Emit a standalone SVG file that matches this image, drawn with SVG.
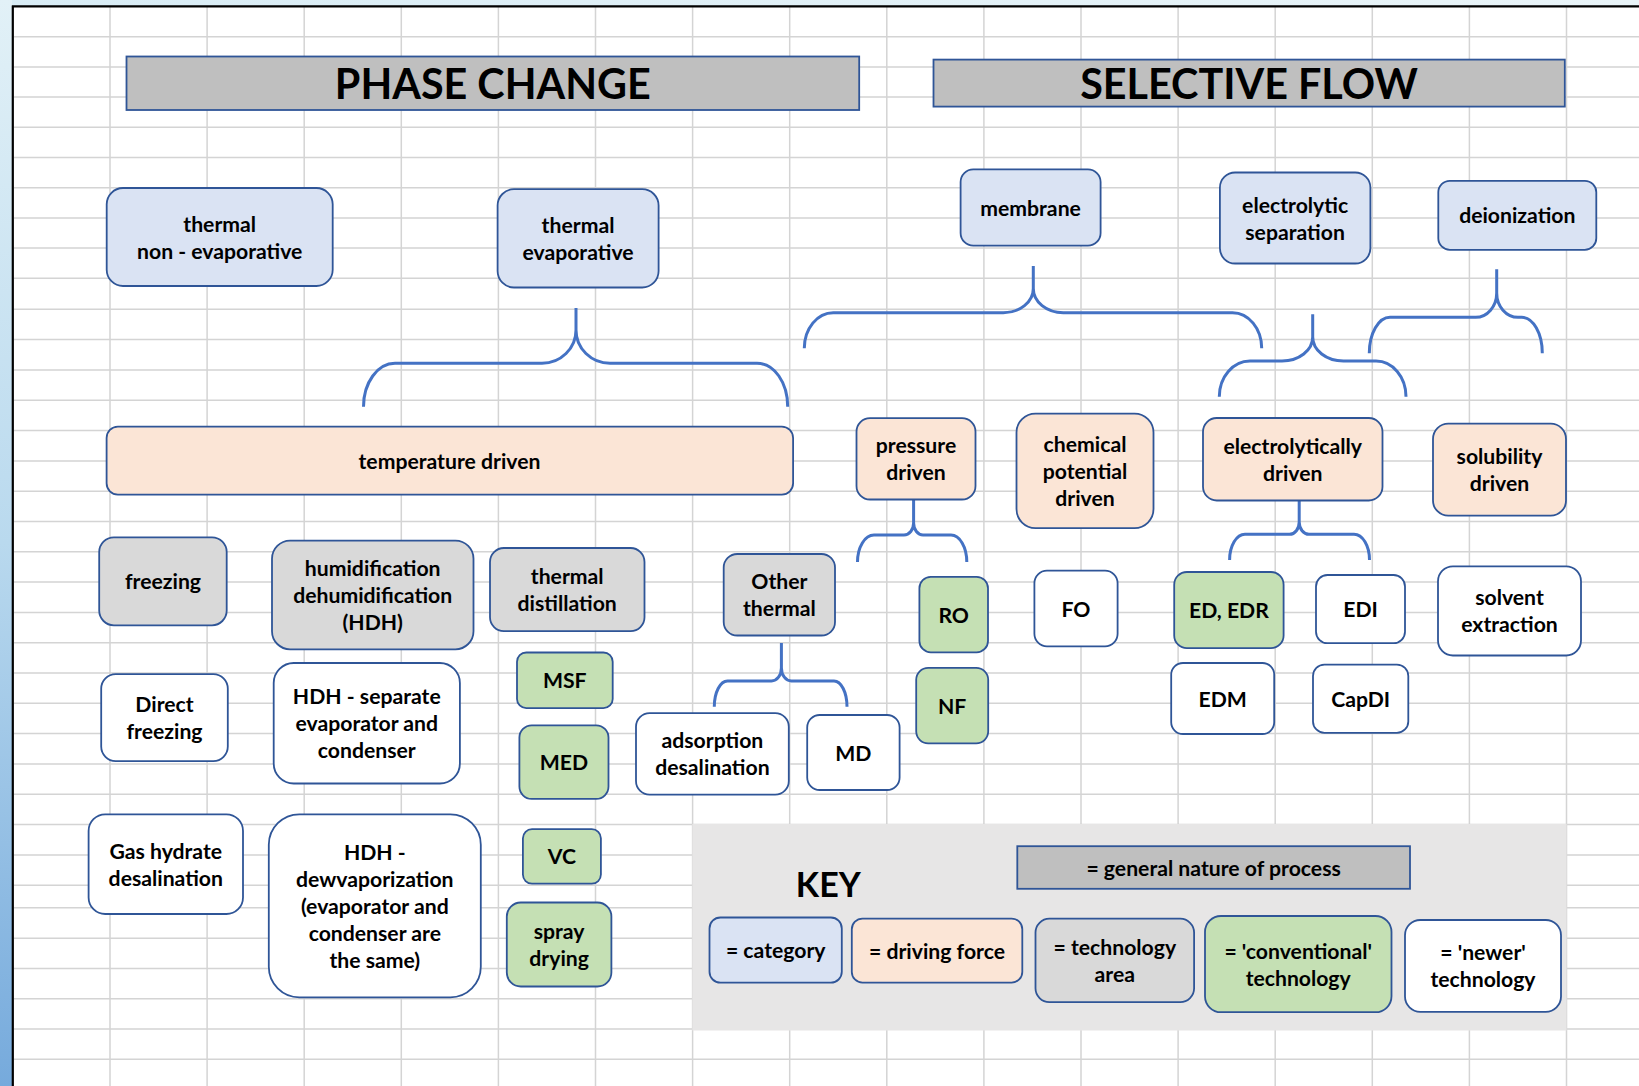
<svg xmlns="http://www.w3.org/2000/svg" width="1639" height="1086" viewBox="0 0 1639 1086">
<defs>
<linearGradient id="lg" x1="0" y1="0" x2="0" y2="1">
<stop offset="0" stop-color="#e2f1f7"/>
<stop offset="0.5" stop-color="#b9d9ee"/>
<stop offset="1" stop-color="#76aadc"/>
</linearGradient>
<linearGradient id="tg" x1="0" y1="0" x2="1" y2="0">
<stop offset="0" stop-color="#d8ecf5"/>
<stop offset="1" stop-color="#e9f4f8"/>
</linearGradient>
</defs>
<style>
.grid{stroke:#d4d4d4;stroke-width:1.5;fill:none}
.box{stroke:#2f5597;stroke-width:1.8}
.cat{fill:#dae3f3}
.drv{fill:#fbe5d6}
.tech{fill:#d9d9d9}
.conv{fill:#c5e0b4}
.new{fill:#ffffff}
.hdr{fill:#bfbfbf}
text{font-family:Lato,"Open Sans","Liberation Sans",sans-serif;font-weight:700;font-size:21.2px;text-anchor:middle;fill:#000}
.big{font-size:41.3px}
.key{font-size:34px}
.br{fill:none;stroke:#4472c4;stroke-width:3}
</style>
<rect x="0" y="0" width="1639" height="1086" fill="#ffffff"/>
<rect x="0" y="0" width="1639" height="6" fill="url(#tg)"/>
<rect x="0" y="0" width="12" height="1086" fill="url(#lg)"/>
<g id="grid">
<path class="grid" d="M110,7V1086M207.1,7V1086M304.2,7V1086M401.3,7V1086M498.4,7V1086M595.5,7V1086M692.6,7V1086M789.7,7V1086M886.8,7V1086M983.9,7V1086M1081,7V1086M1178.1,7V1086M1275.2,7V1086M1372.3,7V1086M1469.4,7V1086M1566.5,7V1086"/>
<path class="grid" d="M14,36.7H1639M14,66.9H1639M14,97.1H1639M14,127.3H1639M14,157.5H1639M14,187.7H1639M14,217.9H1639M14,248.1H1639M14,278.3H1639M14,309.3H1639M14,339.6H1639M14,369.9H1639M14,400.2H1639M14,430.5H1639M14,460.9H1639M14,491.2H1639M14,521.5H1639M14,551.8H1639M14,582.1H1639M14,612.4H1639M14,642.7H1639M14,673H1639M14,703.3H1639M14,733.6H1639M14,764H1639M14,794.3H1639M14,824.6H1639M14,854.9H1639M14,885.2H1639M14,907.8H1639M14,938.3H1639M14,968.5H1639M14,998.7H1639M14,1028.9H1639M14,1059.2H1639"/>
</g>
<path d="M12.8,5.5V1086M12,6.3H1639" stroke="#000" stroke-width="2.2" fill="none"/>

<g id="phase-change">
<rect class="box hdr" x="126.5" y="56.5" width="732.7" height="53.5"/>
<text class="big" x="492.8" y="98.8">PHASE CHANGE</text>
</g>
<g id="selective-flow">
<rect class="box hdr" x="933.5" y="59.6" width="631.3" height="47"/>
<text class="big" x="1249" y="98.8">SELECTIVE FLOW</text>
</g>

<g id="connectors">
<path class="br" d="M576,308V330C576,348.4 560.8,363.3 542,363.3H395C377.6,363.3 363.5,382.7 363.5,406.7M576,330C576,348.4 591.2,363.3 610,363.3H757C774.4,363.3 787.7,382.7 787.7,406.7"/>
<path class="br" d="M1033.3,266V288.5C1033.3,301.9 1019.9,312.7 1003.3,312.7H833.3C817.3,312.7 804.3,328.6 804.3,348.3M1033.3,288.5C1033.3,301.9 1046.7,312.7 1063.3,312.7H1232.5C1248.6,312.7 1261.7,328.6 1261.7,348.3"/>
<path class="br" d="M1312.7,314.3V337C1312.7,350.3 1299,361 1282,361H1250C1233,361 1219.3,377 1219.3,396.7M1312.7,337C1312.7,350.3 1326.4,361 1343.5,361H1376C1392.6,361 1406,377 1406,396.7"/>
<path class="br" d="M1496.7,269.3V293C1496.7,306.4 1487.3,317.3 1475.7,317.3H1390C1378.6,317.3 1369.3,333.4 1369.3,353.3M1496.7,293C1496.7,306.4 1506.3,317.3 1518,317.3H1521.7C1533.1,317.3 1542.3,333.4 1542.3,353.3"/>
<path class="br" d="M913.6,499.5V523C913.6,529.6 909.3,535 904,535H874C864.9,535 857.5,547.1 857.5,562M913.6,523C913.6,529.6 917.9,535 923,535H951C959.7,535 966.8,547.1 966.8,562"/>
<path class="br" d="M1299.2,500.5V522C1299.2,528.8 1294.9,534.3 1289.5,534.3H1245C1236.5,534.3 1229.6,545.8 1229.6,560M1299.2,522C1299.2,528.8 1303.6,534.3 1309,534.3H1354C1362.6,534.3 1369.5,545.8 1369.5,560"/>
<path class="br" d="M781.4,643V668C781.4,675.2 777,681 771.5,681H727.5C720.2,681 714.3,692.5 714.3,706.7M781.4,668C781.4,675.2 785.9,681 791.3,681H834C841.2,681 847,692.5 847,706.7"/>
</g>

<g id="thermal-non-evaporative">
<rect class="box cat" x="106.7" y="188" width="226" height="98" rx="16.3"/>
<text x="219.7" y="231.5">thermal</text>
<text x="219.7" y="258.5">non - evaporative</text>
</g>
<g id="thermal-evaporative">
<rect class="box cat" x="497.6" y="189.2" width="161" height="98.3" rx="16.4"/>
<text x="578" y="232.9">thermal</text>
<text x="578" y="259.9">evaporative</text>
</g>
<g id="membrane">
<rect class="box cat" x="960.6" y="169.3" width="140" height="76.3" rx="12.7"/>
<text x="1030.6" y="215.5">membrane</text>
</g>
<g id="electrolytic-separation">
<rect class="box cat" x="1219.9" y="172.5" width="150.5" height="91" rx="15.2"/>
<text x="1295.1" y="212.5">electrolytic</text>
<text x="1295.1" y="239.5">separation</text>
</g>
<g id="deionization">
<rect class="box cat" x="1438.3" y="180.8" width="158" height="69" rx="11.5"/>
<text x="1517.3" y="223.3">deionization</text>
</g>

<g id="temperature-driven">
<rect class="box drv" x="106.6" y="426.6" width="686.5" height="68" rx="11.3"/>
<text x="449.5" y="468.6">temperature driven</text>
</g>
<g id="pressure-driven">
<rect class="box drv" x="856.5" y="418.2" width="119" height="81.3" rx="13.5"/>
<text x="916" y="453.4">pressure</text>
<text x="916" y="480.4">driven</text>
</g>
<g id="chemical-potential-driven">
<rect class="box drv" x="1016.5" y="413.6" width="137" height="114.5" rx="19"/>
<text x="1085" y="451.9">chemical</text>
<text x="1085" y="478.9">potential</text>
<text x="1085" y="505.9">driven</text>
</g>
<g id="electrolytically-driven">
<rect class="box drv" x="1203" y="418" width="179.5" height="82.5" rx="13.7"/>
<text x="1292.7" y="453.7">electrolytically</text>
<text x="1292.7" y="480.7">driven</text>
</g>
<g id="solubility-driven">
<rect class="box drv" x="1433" y="423.7" width="133" height="92" rx="15.3"/>
<text x="1499.5" y="464.2">solubility</text>
<text x="1499.5" y="491.2">driven</text>
</g>

<g id="freezing">
<rect class="box tech" x="99.2" y="537.3" width="127.5" height="88" rx="14.7"/>
<text x="163" y="589.3">freezing</text>
</g>
<g id="hdh">
<rect class="box tech" x="272" y="540.6" width="201.5" height="108.7" rx="18.1"/>
<text x="372.7" y="576">humidification</text>
<text x="372.7" y="603">dehumidification</text>
<text x="372.7" y="630">(HDH)</text>
</g>
<g id="thermal-distillation">
<rect class="box tech" x="490" y="548" width="154.5" height="83.2" rx="13.9"/>
<text x="567.2" y="584.1">thermal</text>
<text x="567.2" y="611.1">distillation</text>
</g>
<g id="other-thermal">
<rect class="box tech" x="723.7" y="554" width="111.3" height="81.5" rx="13.6"/>
<text x="779.4" y="589.3">Other</text>
<text x="779.4" y="616.3">thermal</text>
</g>

<g id="ro">
<rect class="box conv" x="919.4" y="576.8" width="68.6" height="75.5" rx="11.4"/>
<text x="953.7" y="622.5">RO</text>
</g>
<g id="nf">
<rect class="box conv" x="916.2" y="667.8" width="72" height="75.5" rx="12"/>
<text x="952.2" y="713.5">NF</text>
</g>
<g id="ed-edr">
<rect class="box conv" x="1174.2" y="572" width="109.4" height="76.2" rx="12.7"/>
<text x="1228.9" y="618.1">ED, EDR</text>
</g>
<g id="msf">
<rect class="box conv" x="517" y="652.5" width="95.7" height="55.7" rx="9.3"/>
<text x="564.8" y="688.4">MSF</text>
</g>
<g id="med">
<rect class="box conv" x="519.4" y="725.3" width="89.1" height="73.6" rx="12.3"/>
<text x="564" y="770.1">MED</text>
</g>
<g id="vc">
<rect class="box conv" x="522.9" y="829.2" width="78" height="54.5" rx="9.1"/>
<text x="561.9" y="864.4">VC</text>
</g>
<g id="spray-drying">
<rect class="box conv" x="506.8" y="902.5" width="104.6" height="84" rx="14"/>
<text x="559.1" y="939">spray</text>
<text x="559.1" y="966">drying</text>
</g>

<g id="fo">
<rect class="box new" x="1034.4" y="570.7" width="83.2" height="75.7" rx="12.6"/>
<text x="1076" y="616.5">FO</text>
</g>
<g id="edi">
<rect class="box new" x="1316" y="575" width="89" height="68.2" rx="11.4"/>
<text x="1360.5" y="617.1">EDI</text>
</g>
<g id="solvent-extraction">
<rect class="box new" x="1438" y="566.3" width="143" height="89.2" rx="14.9"/>
<text x="1509.5" y="605.4">solvent</text>
<text x="1509.5" y="632.4">extraction</text>
</g>
<g id="edm">
<rect class="box new" x="1171.2" y="663" width="103" height="71" rx="11.8"/>
<text x="1222.7" y="706.5">EDM</text>
</g>
<g id="capdi">
<rect class="box new" x="1313" y="664.6" width="95.3" height="68.2" rx="11.4"/>
<text x="1360.6" y="706.7">CapDI</text>
</g>
<g id="direct-freezing">
<rect class="box new" x="101.2" y="674.1" width="126.6" height="87" rx="14.5"/>
<text x="164.5" y="712.1">Direct</text>
<text x="164.5" y="739.1">freezing</text>
</g>
<g id="hdh-separate">
<rect class="box new" x="273.7" y="663" width="186.2" height="120.5" rx="20"/>
<text x="366.8" y="704.2">HDH - separate</text>
<text x="366.8" y="731.2">evaporator and</text>
<text x="366.8" y="758.2">condenser</text>
</g>
<g id="adsorption-desalination">
<rect class="box new" x="636" y="713.1" width="152.8" height="81.6" rx="13.6"/>
<text x="712.4" y="748.4">adsorption</text>
<text x="712.4" y="775.4">desalination</text>
</g>
<g id="md">
<rect class="box new" x="807.2" y="715" width="92.4" height="75" rx="12.5"/>
<text x="853.4" y="760.5">MD</text>
</g>
<g id="gas-hydrate">
<rect class="box new" x="88.6" y="814.3" width="154.4" height="99.7" rx="16.6"/>
<text x="165.8" y="858.7">Gas hydrate</text>
<text x="165.8" y="885.7">desalination</text>
</g>
<g id="hdh-dewvaporization">
<rect class="box new" x="268.8" y="814.3" width="212" height="183" rx="30.5"/>
<text x="374.8" y="859.8">HDH -</text>
<text x="374.8" y="886.8">dewvaporization</text>
<text x="374.8" y="913.8">(evaporator and</text>
<text x="374.8" y="940.8">condenser are</text>
<text x="374.8" y="967.8">the same)</text>
</g>

<g id="key">
<rect x="692.3" y="824" width="874.2" height="206.5" fill="#e7e6e6"/>
<text class="key" x="828.3" y="897.3">KEY</text>
<g id="key-general">
<rect class="box hdr" x="1017.3" y="846.2" width="392.7" height="42.6"/>
<text x="1213.6" y="875.5">= general nature of process</text>
</g>
<g id="key-category">
<rect class="box cat" x="709.5" y="917.5" width="132.3" height="65.2" rx="10.9"/>
<text x="775.7" y="958">= category</text>
</g>
<g id="key-driving">
<rect class="box drv" x="851.8" y="918.6" width="170.5" height="64" rx="10.7"/>
<text x="937" y="958.6">= driving force</text>
</g>
<g id="key-tech">
<rect class="box tech" x="1035.5" y="918.7" width="158.6" height="83.5" rx="13.9"/>
<text x="1114.8" y="955">= technology</text>
<text x="1114.8" y="982">area</text>
</g>
<g id="key-conventional">
<rect class="box conv" x="1205" y="916" width="186.5" height="96.2" rx="16"/>
<text x="1298.2" y="958.6">= 'conventional'</text>
<text x="1298.2" y="985.6">technology</text>
</g>
<g id="key-newer">
<rect class="box new" x="1405" y="920" width="156" height="91.8" rx="15.3"/>
<text x="1483" y="960.4">= 'newer'</text>
<text x="1483" y="987.4">technology</text>
</g>
</g>
</svg>
